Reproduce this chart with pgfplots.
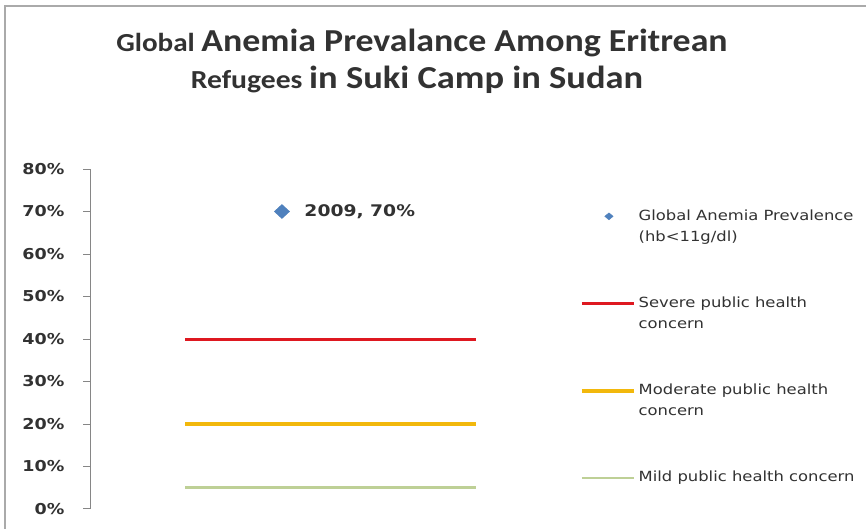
\documentclass[border=0pt]{standalone}
\usepackage{pgfplots}
\pgfplotsset{compat=1.18}
\usepackage{graphicx}
\usepackage{fontspec}
\setmainfont{DejaVu Sans}
\newfontfamily\carlito{Carlito}
\newfontfamily\dejavu{DejaVu Sans}

\definecolor{prevblue}{RGB}{79,129,189}
\definecolor{severered}{RGB}{222,24,32}
\definecolor{moderateyellow}{RGB}{242,184,12}
\definecolor{mildgreen}{RGB}{190,208,150}
\definecolor{axisgray}{RGB}{134,134,134}
\definecolor{textgray}{RGB}{50,50,50}
\definecolor{framegray}{RGB}{170,170,170}

% slightly widened text, as in the original rendering
\newcommand\wx[1]{\scalebox{1.17}[1]{#1}}
\newcommand\wt[1]{\scalebox{1.12}[1]{#1}}

\pgfplotsset{
  short line legend/.style={
    legend image code/.code={\draw[##1] (0pt,4pt) -- (52pt,4pt);}},
  diamond legend/.style={
    legend image code/.code={\draw[mark=diamond*, mark size=3.5pt,
      mark options={xscale=1.6, fill=prevblue, draw=prevblue}]
      plot coordinates {(27pt,4.5pt)};}},
}

\begin{document}
\begin{tikzpicture}[x=1pt,y=1pt]
\useasboundingbox (0,0) rectangle (866,529);
\fill[white] (0,0) rectangle (866,529);
% outer chart frame
\draw[framegray, line width=1.5pt] (5,0) -- (5,523) -- (866,523);

% title
\node[anchor=base, text=textgray, inner sep=0pt] at (422,477)
  {\wt{\carlito\bfseries\fontsize{26}{30}\selectfont Global\ \fontsize{32}{36}\selectfont Anemia Prevalance Among Eritrean}};
\node[anchor=base, text=textgray, inner sep=0pt] at (417,440.5)
  {\scalebox{1.14}[1]{\carlito\bfseries\fontsize{26}{30}\selectfont Refugees\ \fontsize{32}{36}\selectfont in Suki Camp in Sudan}};

\begin{axis}[
  at={(90pt,20pt)}, anchor=south west,
  scale only axis, width=475pt, height=340pt,
  xmin=2007.02, xmax=2011.92,
  ymin=0, ymax=80,
  axis x line=none,
  axis y line=left,
  axis line style={-, axisgray, line width=1pt},
  ytick={0,10,...,80},
  tick align=outside,
  major tick length=7pt,
  tick style={axisgray, line width=1pt},
  /pgf/number format/assume math mode=true,
  yticklabel={\wx{\dejavu\bfseries\pgfmathprintnumber{\tick}\%}},
  yticklabel style={text=textgray, font=\fontsize{15}{18}\selectfont, xshift=-15pt},
  clip=false,
  legend style={
    at={(axis description cs:1.0316,0.8805)}, anchor=north west,
    draw=none, fill=none, inner sep=0pt,
    font=\dejavu\fontsize{14}{21}\selectfont,
    text=textgray,
    row sep=0pt, column sep=3pt,
    nodes={inner sep=0pt, text height=11pt, text depth=76pt},
    cells={anchor=base west, align=left},
  },
]
% measured prevalence
\addplot[only marks, mark=diamond*, mark size=7pt,
  mark options={xscale=1.45, fill=prevblue, draw=prevblue},
  point meta=explicit symbolic,
  nodes near coords,
  nodes near coords style={anchor=west, xshift=19pt, text=textgray,
    font=\dejavu\bfseries\fontsize{16}{19}\selectfont},
  diamond legend]
  coordinates {(2009,70) [{\wx{2009, 70\%}}]};
\addlegendentry{\wx{\begin{tabular}[t]{@{}l@{}}Global Anemia Prevalence\\(hb<11g/dl)\end{tabular}}}

% public health thresholds
\addplot[severered, line width=3pt, short line legend]
  coordinates {(2008,40) (2011,40)};
\addlegendentry{\wx{\begin{tabular}[t]{@{}l@{}}Severe public health\\concern\end{tabular}}}

\addplot[moderateyellow, line width=3.5pt, short line legend]
  coordinates {(2008,20) (2011,20)};
\addlegendentry{\wx{\begin{tabular}[t]{@{}l@{}}Moderate public health\\concern\end{tabular}}}

\addplot[mildgreen, line width=2.5pt, short line legend]
  coordinates {(2008,5) (2011,5)};
\addlegendentry{\wx{Mild public health concern}}
\end{axis}
\end{tikzpicture}
\end{document}
